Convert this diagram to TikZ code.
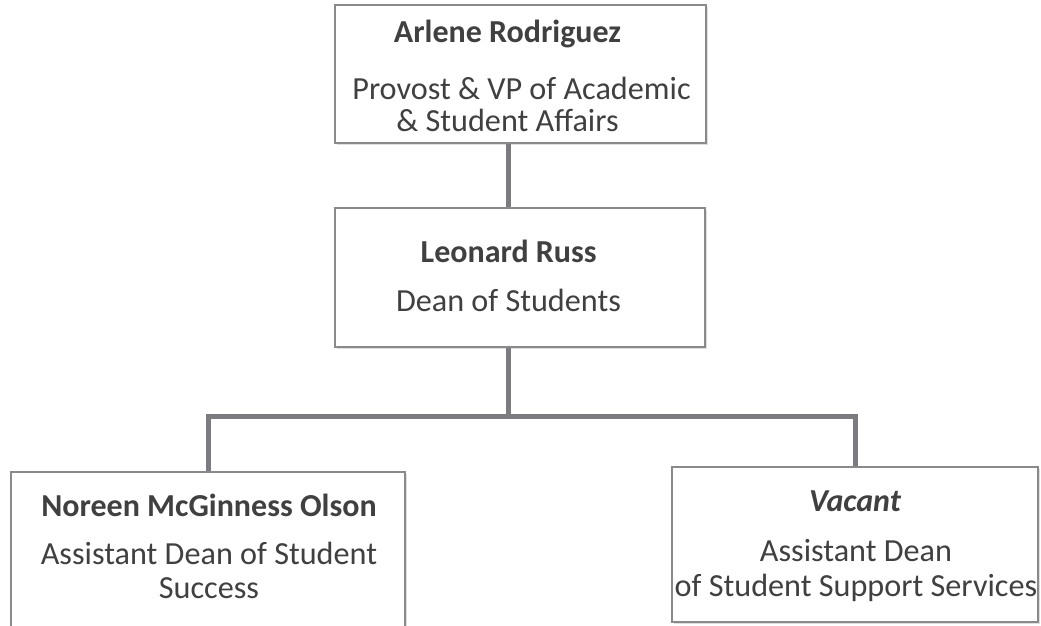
\documentclass[tikz,border=0pt]{standalone}
\usepackage{fontspec}
\setmainfont{Carlito}
\usetikzlibrary{shadows}

\definecolor{linkgray}{HTML}{7C7C80}
\definecolor{boxgray}{HTML}{8A8A8A}
\definecolor{textgray}{HTML}{404040}

\tikzset{
	box/.style={draw=boxgray, line width=0.7pt, fill=white, inner sep=0pt,
		drop shadow={shadow xshift=1pt, shadow yshift=-1pt, opacity=.25}},
	link/.style={draw=linkgray, line width=2.5pt, line join=miter},
	person/.style={anchor=base, text=textgray, inner sep=0pt, font=\bfseries\fontsize{16}{16}\selectfont},
	role/.style={anchor=base, text=textgray, inner sep=0pt, font=\fontsize{16.1}{16}\selectfont}
}

\begin{document}
\begin{tikzpicture}[x=0.5pt,y=-0.5pt]
	\useasboundingbox (0,0) rectangle (1041,626);
	\clip (0,0) rectangle (1041,626);
	% boxes
	\node[box, minimum width=185.5pt, minimum height=69pt] (provost) at (520.5,74) {};
	\node[box, minimum width=185pt, minimum height=69.5pt] (dean) at (520,277.5) {};
	\node[box, minimum width=197pt, minimum height=90pt] (success) at (208,562) {};
	\node[box, minimum width=183pt, minimum height=77.5pt] (support) at (855,544.5) {};
	\coordinate (trunk) at (508,417);
	% connectors
	\draw[link] (provost.south -| trunk) -- (dean.north -| trunk);
	\draw[link] (dean.south -| trunk) -- (trunk);
	\draw[link] (success.north) |- (trunk) -| (support.north);
	% texts
	\node[person] (provost-name) at (507.5,43) {Arlene Rodriguez};
	\node[role] (provost-role1) at (521.5,100) {Provost \& VP of Academic};
	\node[role] (provost-role2) at (507.5,131.7) {\& Student Affairs};
	\node[person] (dean-name) at (508.7,263) {Leonard Russ};
	\node[role] (dean-role) at (508.5,312) {Dean of Students};
	\node[person] (success-name) at (209,516.7) {Noreen McGinness Olson};
	\node[role] (success-role1) at (209,565) {Assistant Dean of Student};
	\node[role] (success-role2) at (209,598) {Success};
	\node[person, font=\bfseries\itshape\fontsize{16}{16}\selectfont] (support-name) at (855,511.7) {Vacant};
	\node[role] (support-role1) at (856,561.7) {Assistant Dean};
	\node[role] (support-role2) at (856,596.7) {of Student Support Services};
\end{tikzpicture}
\end{document}
